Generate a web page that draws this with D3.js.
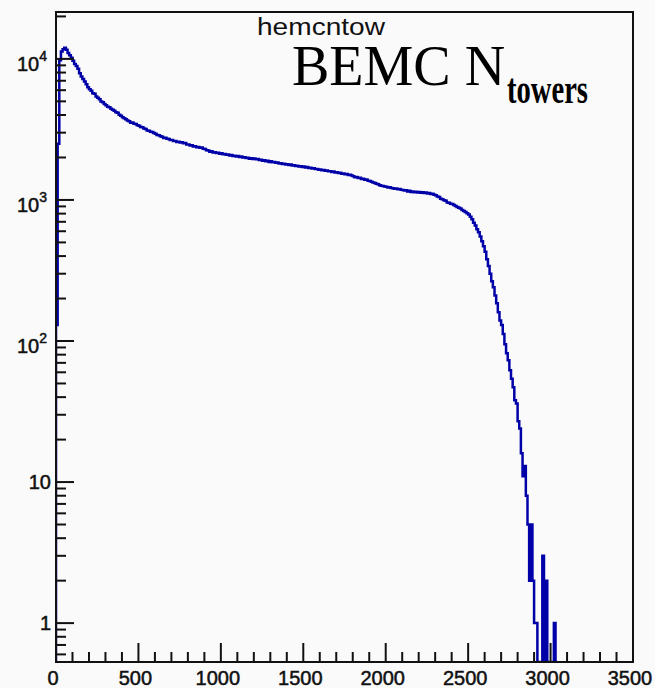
<!DOCTYPE html>
<html>
<head>
<meta charset="utf-8">
<script src="https://cdn.jsdelivr.net/npm/d3@7"></script>
<style>
  body { margin: 0; background: #fafafa; }
  text { font-family: "Liberation Sans", Arial, sans-serif; fill: #111; }
  .tick-label { stroke: #111; stroke-width: 0.5px; }
</style>
</head>
<body>
<div id="chart"></div>
<script>
// histogram hemcntow: BEMC tower count, 10-unit bins starting at 0
var binWidth = 10;
var counts = [
  130, 2500, 9800, 11300, 11700, 12000, 11600, 11000, 10600, 10200,
  9700, 9200, 8900, 8500, 7900, 7500, 7200, 6900, 6600, 6300,
  6100, 5950, 5700, 5650, 5420, 5300, 5180, 4980, 4920, 4780,
  4700, 4580, 4540, 4430, 4360, 4290, 4180, 4150, 4010, 3960,
  3860, 3790, 3730, 3660, 3610, 3530, 3540, 3470, 3450, 3390,
  3360, 3290, 3270, 3210, 3190, 3110, 3100, 3040, 3030, 2980,
  2950, 2890, 2880, 2830, 2810, 2750, 2760, 2710, 2700, 2660,
  2660, 2620, 2620, 2570, 2590, 2550, 2560, 2520, 2530, 2470,
  2470, 2430, 2440, 2390, 2400, 2360, 2370, 2340, 2350, 2310,
  2300, 2250, 2240, 2200, 2210, 2170, 2180, 2150, 2160, 2130,
  2140, 2110, 2120, 2090, 2100, 2070, 2080, 2050, 2060, 2030,
  2050, 2020, 2030, 2000, 2010, 1980, 1995, 1960, 1975, 1950,
  1970, 1940, 1955, 1920, 1930, 1900, 1915, 1880, 1895, 1860,
  1880, 1850, 1860, 1835, 1840, 1815, 1820, 1795, 1805, 1780,
  1790, 1770, 1780, 1755, 1760, 1740, 1750, 1725, 1735, 1715,
  1725, 1700, 1710, 1685, 1690, 1670, 1675, 1655, 1660, 1640,
  1645, 1625, 1630, 1610, 1615, 1595, 1600, 1580, 1590, 1565,
  1570, 1550, 1560, 1535, 1540, 1520, 1525, 1505, 1510, 1490,
  1470, 1450, 1455, 1430, 1435, 1410, 1415, 1390, 1395, 1370,
  1360, 1345, 1330, 1320, 1300, 1290, 1270, 1260, 1255, 1245,
  1240, 1225, 1230, 1215, 1210, 1200, 1205, 1190, 1195, 1180,
  1175, 1165, 1170, 1150, 1160, 1140, 1150, 1135, 1145, 1130,
  1140, 1125, 1135, 1120, 1130, 1110, 1120, 1100, 1105, 1090,
  1080, 1060, 1050, 1020, 1010, 995, 985, 960, 955, 940,
  935, 920, 905, 890, 880, 870, 850, 835, 820, 805,
  790, 760, 730, 690, 660, 620, 590, 550, 510, 470,
  430, 380, 340, 300, 265, 240, 210, 185, 160, 140,
  130, 112, 95, 82, 73, 62, 54, 47, 38, 36,
  27, 24, 16, 11, 13, 8, 5, 2, 5, 2,
  1, 1, 0, 0, 0, 3, 0, 2, 0, 0,
  0, 0, 1, 0
];

var xTickValues = [0, 500, 1000, 1500, 2000, 2500, 3000, 3500];
var yTickValues = [1, 10, 100, 1000, 10000];
var yTickExponents = [null, null, 2, 3, 4];

var svgWidth = 655;
var svgHeight = 688;

var margin = { top: 12, right: 22, bottom: 26, left: 56 };
var width = svgWidth - margin.left - margin.right;
var height = svgHeight - margin.top - margin.bottom;

var svg = d3.select("#chart")
  .append("svg")
  .attr("width", svgWidth)
  .attr("height", svgHeight);

var chartGroup = svg.append("g")
  .attr("transform", `translate(${margin.left}, ${margin.top})`);

// Scales
// ==============================
var xScale = d3.scaleLinear()
  .domain([0, 3500])
  .range([0, width]);

var yMin = 0.53;
var yScale = d3.scaleLog()
  .domain([yMin, 21500])
  .range([height, 0])
  .clamp(true);

chartGroup.append("clipPath")
  .attr("id", "plotclip")
  .append("rect")
  .attr("width", width)
  .attr("height", height);

// Histogram outline (step line)
// ==============================
var pts = [[0, yMin]];
counts.forEach(function(c, i) {
  var v = Math.max(c, yMin);
  pts.push([i * binWidth, v]);
  pts.push([(i + 1) * binWidth, v]);
});
pts.push([counts.length * binWidth, yMin]);

var line = d3.line()
  .x(d => xScale(d[0]))
  .y(d => yScale(d[1]));

chartGroup.append("path")
  .datum(pts)
  .attr("clip-path", "url(#plotclip)")
  .attr("fill", "none")
  .attr("stroke", "#0000a8")
  .attr("stroke-width", 2.5)
  .attr("stroke-linejoin", "miter")
  .attr("d", line);

// Ticks
// ==============================
var xMinor = d3.range(0, 3501, 100).filter(v => v % 500 !== 0);

chartGroup.selectAll(".xmajor")
  .data(xTickValues)
  .enter()
  .append("line")
  .attr("x1", d => xScale(d))
  .attr("x2", d => xScale(d))
  .attr("y1", height)
  .attr("y2", height - 19)
  .attr("stroke", "#111")
  .attr("stroke-width", 2);

chartGroup.selectAll(".xminor")
  .data(xMinor)
  .enter()
  .append("line")
  .attr("x1", d => xScale(d))
  .attr("x2", d => xScale(d))
  .attr("y1", height)
  .attr("y2", height - 10)
  .attr("stroke", "#111")
  .attr("stroke-width", 2);

var yMinor = [];
[0.1, 1, 10, 100, 1000, 10000].forEach(function(dec) {
  for (var k = 2; k <= 9; k++) {
    var v = k * dec;
    if (v >= yMin && v <= 21500) yMinor.push(v);
  }
});

chartGroup.selectAll(".ymajor")
  .data(yTickValues)
  .enter()
  .append("line")
  .attr("x1", 0)
  .attr("x2", 18)
  .attr("y1", d => yScale(d))
  .attr("y2", d => yScale(d))
  .attr("stroke", "#111")
  .attr("stroke-width", 2);

chartGroup.selectAll(".yminor")
  .data(yMinor)
  .enter()
  .append("line")
  .attr("x1", 0)
  .attr("x2", 10)
  .attr("y1", d => yScale(d))
  .attr("y2", d => yScale(d))
  .attr("stroke", "#111")
  .attr("stroke-width", 2);

// Frame
chartGroup.append("rect")
  .attr("width", width)
  .attr("height", height)
  .attr("fill", "none")
  .attr("stroke", "#111")
  .attr("stroke-width", 2);

// Tick labels
// ==============================
chartGroup.selectAll(".xlabel")
  .data(xTickValues)
  .enter()
  .append("text")
  .attr("class", "tick-label")
  .attr("x", d => xScale(d) - 3)
  .attr("y", height + 23)
  .attr("text-anchor", "middle")
  .attr("font-size", "20px")
  .text(d => d);

yTickValues.forEach(function(v, i) {
  var exp = yTickExponents[i];
  var t = chartGroup.append("text")
    .attr("class", "tick-label")
    .attr("text-anchor", "end")
    .attr("font-size", "20px");
  if (exp === null) {
    t.attr("x", -5).attr("y", yScale(v) + 7).text(v);
  } else {
    t.attr("x", -9).attr("y", yScale(v) + 12);
    t.append("tspan").text("10");
    t.append("tspan")
      .attr("font-size", "14px")
      .attr("dy", "-10")
      .text(exp);
  }
});

// Titles
// ==============================
svg.append("text")
  .attr("x", 257)
  .attr("y", 35)
  .attr("font-size", "23px")
  .attr("textLength", 128)
  .attr("lengthAdjust", "spacingAndGlyphs")
  .text("hemcntow");

var label = svg.append("text")
  .attr("x", 292)
  .attr("y", 85)
  .style("font-family", "'Liberation Serif', 'Times New Roman', serif")
  .attr("font-size", "56px")
  .style("fill", "#000");
label.append("tspan").text("BEMC N");

svg.append("text")
  .attr("x", 507)
  .attr("y", 103)
  .style("font-family", "'Liberation Serif', 'Times New Roman', serif")
  .attr("font-size", "42px")
  .attr("font-weight", "bold")
  .attr("textLength", 81)
  .attr("lengthAdjust", "spacingAndGlyphs")
  .style("fill", "#000")
  .text("towers");
</script>
</body>
</html>
